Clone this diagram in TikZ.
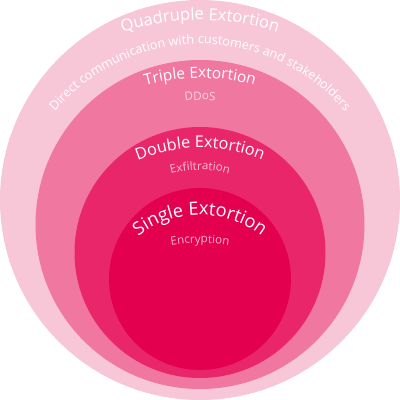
\documentclass[tikz,border=0pt]{standalone}
\usepackage{fontspec}
\setmainfont{Open Sans}
\usetikzlibrary{decorations.text}
\definecolor{quadpink}{HTML}{F8C7D7}
\definecolor{triplepink}{HTML}{F0779F}
\definecolor{doublepink}{HTML}{E82669}
\definecolor{singlepink}{HTML}{E3004E}
\newcommand{\quadfont}{\fontsize{16.5}{16.5}\selectfont}
\newcommand{\notefont}{\fontsize{12.7}{12.7}\selectfont}
\newcommand{\triplefont}{\fontsize{15.4}{15.4}\selectfont}
\newcommand{\doublefont}{\fontsize{16.2}{16.2}\selectfont}
\newcommand{\singlefont}{\fontsize{18.2}{18.2}\selectfont}
\newcommand{\subfont}{\fontsize{11.6}{11.6}\selectfont}

\begin{document}
\begin{tikzpicture}[
    x=1pt, y=1pt,
    ring/.style={fill=#1},
    title/.style 2 args={decorate, decoration={text along path, text align=center, text color=white, text={|#1|#2}}},
    subtitle/.style 2 args={decorate, decoration={text along path, text align=center, text color=white!70!#1, text={|\subfont|#2}}}
  ]
    \useasboundingbox (0,0) rectangle (400,400);
    % rings, outer to inner
    \fill[ring=quadpink] (200,200) circle[radius=200pt];
    \fill[ring=triplepink] (200,175.5) circle[radius=164.5pt];
    \fill[ring=doublepink] (200,147.5) circle[radius=125.5pt];
    \fill[ring=singlepink] (200,121) circle[radius=91pt];
    % curved labels
    \path[title={\quadfont}{Quadruple Extortion}] ([shift={(160:247pt)}]200,133) arc[start angle=160, end angle=20, radius=247pt];
    \path[title={\notefont}{Direct communication with customers and stakeholders}] ([shift={(175:189pt)}]200,167) arc[start angle=175, end angle=5, radius=189pt];
    \path[title={\triplefont}{Triple Extortion}] ([shift={(150:210pt)}]200,112) arc[start angle=150, end angle=30, radius=210pt];
    \path[subtitle={triplepink}{DDoS}] ([shift={(120:150pt)}]200,150) arc[start angle=120, end angle=60, radius=150pt];
    \path[title={\doublefont}{Double Extortion}] ([shift={(150:167pt)}]200,85) arc[start angle=150, end angle=30, radius=167pt];
    \path[subtitle={doublepink}{Exfiltration}] ([shift={(135:112pt)}]200,118) arc[start angle=135, end angle=45, radius=112pt];
    \path[title={\singlefont}{Single Extortion}] ([shift={(175:101pt)}]200,84) arc[start angle=175, end angle=5, radius=101pt];
    \path[subtitle={singlepink}{Encryption}] ([shift={(120:170pt)}]200,-13) arc[start angle=120, end angle=60, radius=170pt];
\end{tikzpicture}
\end{document}
